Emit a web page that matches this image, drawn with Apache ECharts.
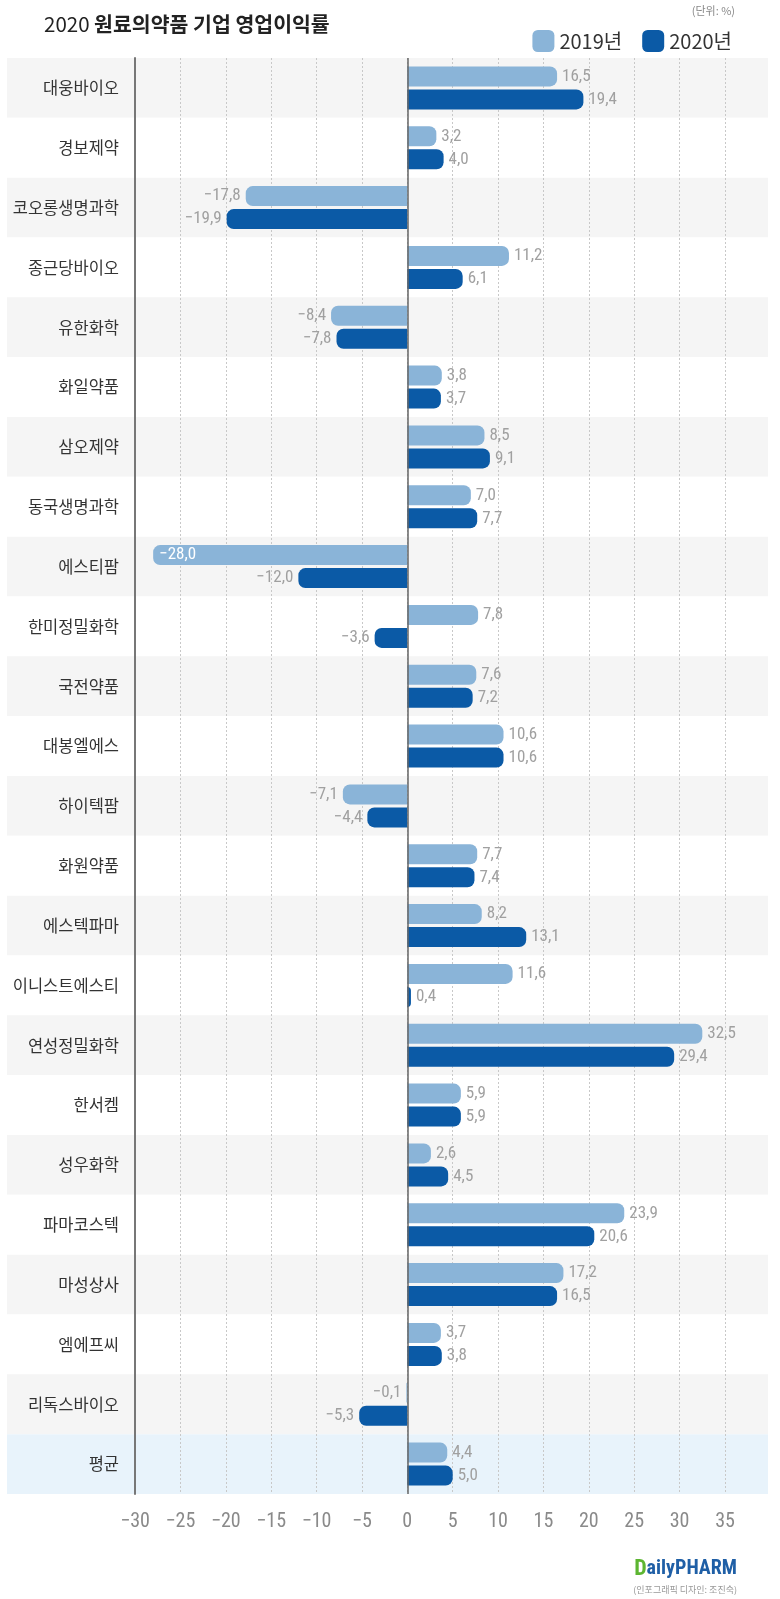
<!DOCTYPE html>
<html>
<head>
    <meta charset="utf-8">
    <title></title>
    <script src="https://cdn.jsdelivr.net/npm/echarts@6/dist/echarts.min.js"></script>
    <style>
        html, body { margin: 0; padding: 0; background: #fff; overflow: hidden; }
        #container { width: 780px; height: 1599px; }
    </style>
</head>
<body>
    <div id="container"></div>
</body>
<script type="text/javascript">
    var categories = ['대웅바이오', '경보제약', '코오롱생명과학', '종근당바이오', '유한화학', '화일약품', '삼오제약', '동국생명과학',
        '에스티팜', '한미정밀화학', '국전약품', '대봉엘에스', '하이텍팜', '화원약품', '에스텍파마', '이니스트에스티',
        '연성정밀화학', '한서켐', '성우화학', '파마코스텍', '마성상사', '엠에프씨', '리독스바이오', '평균'];
    var y2019 = [16.5, 3.2, -17.8, 11.2, -8.4, 3.8, 8.5, 7.0, -28.0, 7.8, 7.6, 10.6, -7.1, 7.7, 8.2, 11.6, 32.5, 5.9, 2.6, 23.9, 17.2, 3.7, -0.1, 4.4];
    var y2020 = [19.4, 4.0, -19.9, 6.1, -7.8, 3.7, 9.1, 7.7, -12.0, -3.6, 7.2, 10.6, -4.4, 7.4, 13.1, 0.4, 29.4, 5.9, 4.5, 20.6, 16.5, 3.8, -5.3, 5.0];
    var xTicks = [-30, -25, -20, -15, -10, -5, 0, 5, 10, 15, 20, 25, 30, 35];

    var numFont = '"Roboto Condensed", "Liberation Sans Narrow", "Roboto", sans-serif';
    var krFont = '"Noto Sans CJK KR", sans-serif';

    function fmt(v) {
        return v.toFixed(1).replace('.', ',').replace('-', '\u2212');
    }

    function barData(arr) {
        return arr.map(function(v) {
            var item = {
                value: v,
                itemStyle: { borderRadius: v >= 0 ? [0, 7, 7, 0] : [7, 0, 0, 7] },
                label: { position: v >= 0 ? 'right' : 'left' }
            };
            if (v <= -25) {
                item.label = { position: 'insideLeft', color: '#fff', distance: 6 };
            }
            return item;
        });
    }

    var bgData = categories.map(function(c, i) {
        var col = i % 2 === 0 ? '#f5f5f5' : '#ffffff';
        if (c === '평균') col = '#e8f3fb';
        return { value: 1, itemStyle: { color: col } };
    });

    var dom = document.getElementById('container');
    var myChart = echarts.init(dom);
    var option = {
        backgroundColor: '#fff',
        animation: false,
        title: {
            text: '{n|2020 }{b|원료의약품 기업 영업이익률}',
            left: 39,
            top: 9,
            textStyle: {
                rich: {
                    n: { fontFamily: krFont, fontSize: 20.5, color: '#222', fontWeight: 'normal' },
                    b: { fontFamily: krFont, fontSize: 20.5, color: '#222', fontWeight: 'bold' }
                }
            }
        },
        legend: {
            data: ['2019년', '2020년'],
            right: 43,
            top: 25,
            icon: 'roundRect',
            itemWidth: 22,
            itemHeight: 22,
            itemGap: 20,
            textStyle: { fontFamily: krFont, fontSize: 20, color: '#333' }
        },
        graphic: [
            { type: 'text', right: 45, top: 5, style: { text: '(단위: %)', fontFamily: krFont, fontSize: 11, fill: '#888' } },
            {
                type: 'text', right: 43, top: 1558,
                style: {
                    text: '{g|D}{b|ailyPHARM}',
                    rich: {
                        g: { fontFamily: numFont, fontSize: 22, fontWeight: 'bold', fill: '#5cb531' },
                        b: { fontFamily: numFont, fontSize: 20, fontWeight: 'bold', fill: '#1f5fa6' }
                    }
                }
            },
            { type: 'text', right: 43, top: 1585, style: { text: '(인포그래픽 디자인: 조진숙)', fontFamily: krFont, fontSize: 9, fill: '#999' } }
        ],
        grid: [
            { left: 7, right: 12, top: 58, bottom: 105, z: -5 },
            { left: 135, right: 55, top: 58, bottom: 105 }
        ],
        xAxis: [
            { gridIndex: 0, type: 'value', min: 0, max: 1, show: false },
            {
                gridIndex: 1,
                type: 'value',
                min: xTicks[0],
                max: xTicks[xTicks.length - 1],
                interval: 5,
                axisLine: { show: false },
                axisTick: { show: false },
                axisLabel: {
                    margin: 18,
                    fontFamily: numFont,
                    fontSize: 20,
                    color: '#8a8a8a',
                    formatter: function(v) { return String(v).replace('-', '\u2212'); }
                },
                splitLine: { show: true, lineStyle: { color: '#c8c8c8', type: [2, 2], width: 1 } }
            }
        ],
        yAxis: [
            { gridIndex: 0, type: 'category', data: categories, inverse: true, show: false },
            {
                gridIndex: 1,
                type: 'category',
                data: categories,
                inverse: true,
                axisLine: { show: true, onZero: false, lineStyle: { color: '#777', width: 2 } },
                axisTick: { show: false },
                axisLabel: { margin: 16, fontFamily: krFont, fontSize: 16.5, color: '#333' }
            }
        ],
        series: [
            {
                name: 'bg',
                type: 'bar',
                xAxisIndex: 0,
                yAxisIndex: 0,
                barWidth: '100%',
                silent: true,
                z: -10,
                data: bgData
            },
            {
                name: '2019년',
                type: 'bar',
                xAxisIndex: 1,
                yAxisIndex: 1,
                barWidth: 20,
                barGap: '15%',
                itemStyle: { color: '#8ab4d8' },
                label: {
                    show: true,
                    distance: 5,
                    fontFamily: numFont,
                    fontSize: 17,
                    color: '#a0a0a0',
                    formatter: function(p) { return fmt(p.value); }
                },
                markLine: {
                    silent: true,
                    symbol: 'none',
                    label: { show: false },
                    lineStyle: { color: '#666', width: 1.5, type: 'solid' },
                    data: [{ xAxis: 0 }]
                },
                data: barData(y2019)
            },
            {
                name: '2020년',
                type: 'bar',
                xAxisIndex: 1,
                yAxisIndex: 1,
                barWidth: 20,
                barGap: '15%',
                itemStyle: { color: '#0b5aa6' },
                label: {
                    show: true,
                    distance: 5,
                    fontFamily: numFont,
                    fontSize: 17,
                    color: '#a0a0a0',
                    formatter: function(p) { return fmt(p.value); }
                },
                data: barData(y2020)
            }
        ]
    };
    myChart.setOption(option);
</script>
</html>
